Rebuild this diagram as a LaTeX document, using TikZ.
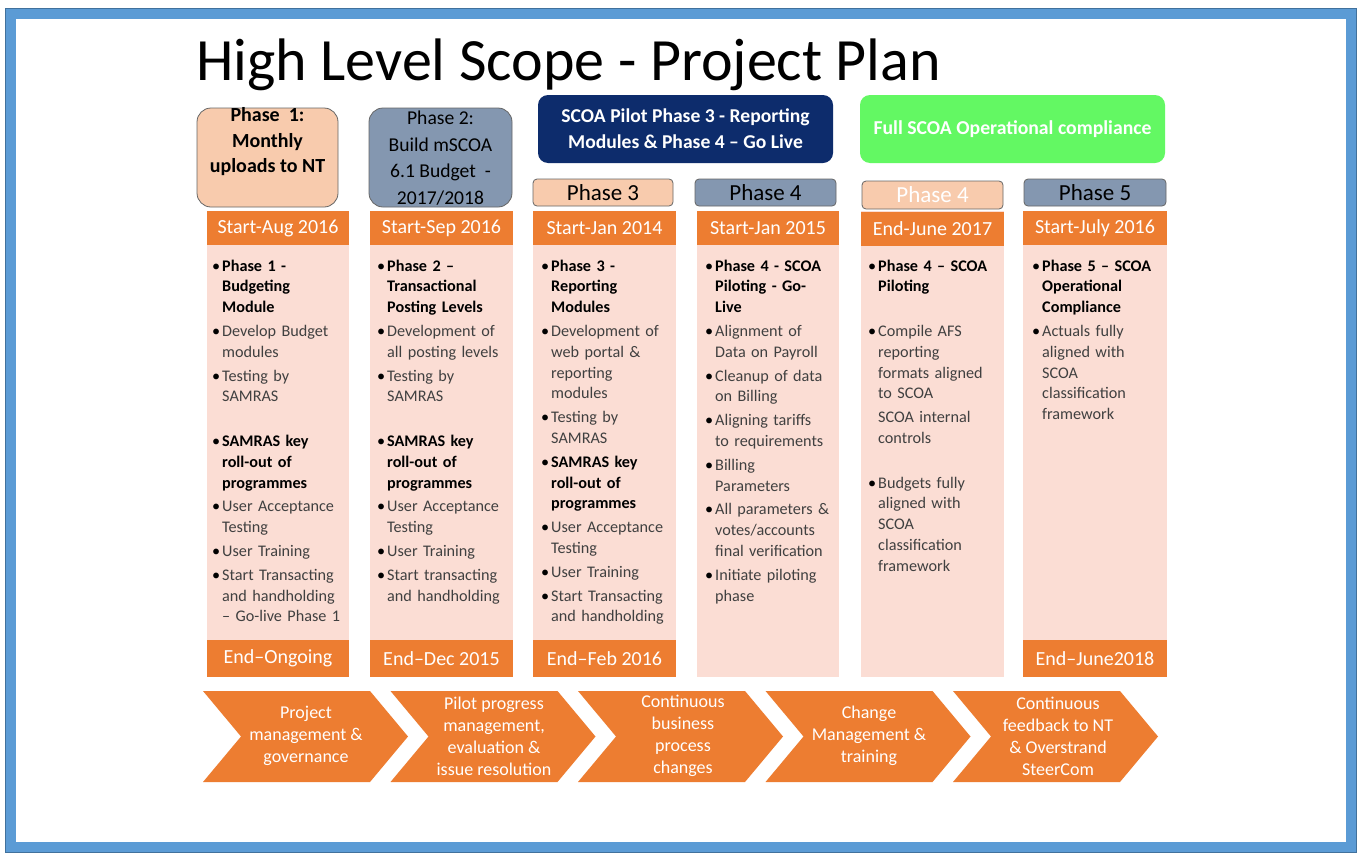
\documentclass[tikz,border=0pt]{standalone}
\usepackage{fontspec}
\setmainfont{Carlito}
\definecolor{orng}{HTML}{ED7D31}
\definecolor{pinkbg}{HTML}{FBDDD4}
\definecolor{peach}{HTML}{F8CBAD}
\definecolor{slate}{HTML}{8497B0}
\definecolor{navy}{HTML}{0D2C6C}
\definecolor{lgreen}{HTML}{63F863}
\definecolor{txtgray}{HTML}{404040}
\definecolor{framebl}{HTML}{5B9BD5}
\definecolor{framedk}{HTML}{41719C}
% bold and plain bullet points for the column texts (\\ kept inside the paragraph)
\newcommand{\bh}[1]{\par\vspace{3pt}\hangindent=10pt\hangafter=1\noindent\hbox to 10pt{\textbullet\hss}{\let\\\newline\bfseries#1}\par}
\newcommand{\bi}[1]{\par\vspace{3pt}\hangindent=10pt\hangafter=1\noindent\hbox to 10pt{\textbullet\hss}{\let\\\newline\color{txtgray}#1}\par}
\newcommand{\bc}[1]{\par\vspace{3pt}\hangindent=10pt\hangafter=1\noindent\hbox to 10pt{\hss}{\let\\\newline\color{txtgray}#1}\par}
\newcommand{\bgap}{\par\vspace{20.8pt}}
\tikzset{
  tab/.style={draw=black!60, line width=0.8pt, rounded corners=4pt},
  tabtxt/.style={minimum height=27pt, inner sep=0pt, font=\fontsize{23}{24}\selectfont},
  bar/.style={fill=orng, text=white, inner sep=0pt, minimum height=34pt, font=\fontsize{20}{22}\selectfont},
  colbg/.style={fill=pinkbg, draw=none},
  body/.style={anchor=north west, inner sep=0pt, text width=134pt, align=left, font=\fontsize{16.2}{20.8}\selectfont},
  chev/.style={fill=orng},
  chevtxt/.style={text=white, align=center, font=\fontsize{18}{22}\selectfont}
}
\begin{document}
\begin{tikzpicture}[x=1pt,y=-1pt]
\useasboundingbox (0,0) rectangle (1362,854);
\fill[white] (0,0) rectangle (1362,854);
\draw[line width=10pt, framebl] (10.5,13.5) rectangle (1351,847);
\draw[line width=1pt, framedk] (5.5,8.5) rectangle (1356,852);

\node[anchor=base west, inner sep=0pt, font=\fontsize{60}{62}\selectfont] (title) at (196,80) {High Level Scope - Project Plan};

% top boxes
\node[tab, rounded corners=14pt, fill=peach, minimum width=141pt, minimum height=99pt] (p1) at (267.5,157.5) {};
\node[anchor=north, align=center, inner sep=0pt, font=\fontsize{20}{25.5}\selectfont\bfseries] (p1t) at (267.5,107.5) {Phase\ \ 1:\\Monthly\\uploads to NT};
\node[tab, rounded corners=14pt, fill=slate, minimum width=143pt, minimum height=99pt] (p2) at (440.5,157.5) {};
\node[anchor=north, align=center, inner sep=0pt, font=\fontsize{19.6}{26.5}\selectfont] (p2t) at (440.5,111) {Phase 2:\\Build mSCOA\\6.1 Budget\ \ -\\2017/2018};
\node[rounded corners=10pt, fill=navy, text=white, align=center, minimum width=295pt, minimum height=68pt, font=\fontsize{19.6}{26}\selectfont\bfseries] (pilot) at (685.5,129) {SCOA Pilot Phase 3 - Reporting\\Modules \& Phase 4 -- Go Live};
\node[rounded corners=10pt, fill=lgreen, text=white, align=center, minimum width=305pt, minimum height=68pt, font=\fontsize{19.7}{22}\selectfont\bfseries] (full) at (1012.5,129) {Full SCOA Operational compliance};

\node[tab, tabtxt, fill=peach, minimum width=140pt] (ph3) at (603,192.5) {Phase 3};
\node[tab, tabtxt, fill=slate, minimum width=141pt] (ph4) at (765.5,192.5) {Phase 4};
\node[tab, tabtxt, fill=peach, text=white, minimum width=141pt, minimum height=28pt] (ph4b) at (932.5,195) {Phase 4};
\node[tab, tabtxt, fill=slate, minimum width=142pt] (ph5) at (1095,192.5) {Phase 5};

% columns
\fill[colbg] (207,211) rectangle (349,677);
\fill[colbg] (370,211) rectangle (513,677);
\fill[colbg] (533,211) rectangle (676,677);
\fill[colbg] (697,211) rectangle (839,677);
\fill[colbg] (861,211) rectangle (1004,677);
\fill[colbg] (1023,211) rectangle (1167,677);

\node[bar, minimum width=142pt] (s1) at (278,228) {Start-Aug 2016};
\node[bar, minimum width=143pt] (s2) at (441.5,228) {Start-Sep 2016};
\node[bar, minimum width=143pt] (s3) at (604.5,228) {Start-Jan 2014};
\node[bar, minimum width=142pt] (s4) at (768,228) {Start-Jan 2015};
\node[bar, minimum width=143pt] (s5) at (932.5,229) {End-June 2017};
\node[bar, minimum width=144pt] (s6) at (1095,228) {Start-July 2016};

\node[bar, minimum width=142pt, minimum height=37pt] (e1) at (278,658.5) {End--Ongoing};
\node[bar, minimum width=143pt, minimum height=37pt] (e2) at (441.5,658.5) {End--Dec 2015};
\node[bar, minimum width=143pt, minimum height=37pt] (e3) at (604.5,658.5) {End--Feb 2016};
\node[bar, minimum width=144pt, minimum height=37pt] (e6) at (1095,658.5) {End--June2018};

\node[body] (c1) at (212,247) {
  \bh{Phase 1 -\\Budgeting\\Module}
  \bi{Develop Budget\\modules}
  \bi{Testing by\\SAMRAS}
  \bgap
  \bh{SAMRAS key\\roll-out of\\programmes}
  \bi{User Acceptance\\Testing}
  \bi{User Training}
  \bi{Start Transacting\\and handholding\\-- Go-live Phase 1}};
\node[body] (c2) at (377,247) {
  \bh{Phase 2 --\\Transactional\\Posting Levels}
  \bi{Development of\\all posting levels}
  \bi{Testing by\\SAMRAS}
  \bgap
  \bh{SAMRAS key\\roll-out of\\programmes}
  \bi{User Acceptance\\Testing}
  \bi{User Training}
  \bi{Start transacting\\and handholding}};
\node[body] (c3) at (541,247) {
  \bh{Phase 3 -\\Reporting\\Modules}
  \bi{Development of\\web portal \&\\reporting\\modules}
  \bi{Testing by\\SAMRAS}
  \bh{SAMRAS key\\roll-out of\\programmes}
  \bi{User Acceptance\\Testing}
  \bi{User Training}
  \bi{Start Transacting\\and handholding}};
\node[body] (c4) at (705,247) {
  \bh{Phase 4 - SCOA\\Piloting - Go-\\Live}
  \bi{Alignment of\\Data on Payroll}
  \bi{Cleanup of data\\on Billing}
  \bi{Aligning tariffs\\to requirements}
  \bi{Billing\\Parameters}
  \bi{All parameters \&\\votes/accounts\\final verification}
  \bi{Initiate piloting\\phase}};
\node[body] (c5) at (868,247) {
  \bh{Phase 4 -- SCOA\\Piloting}
  \bgap
  \bi{Compile AFS\\reporting\\formats aligned\\to SCOA}
  \bc{SCOA internal\\controls}
  \bgap
  \bi{Budgets fully\\aligned with\\SCOA\\classification\\framework}};
\node[body] (c6) at (1032,247) {
  \bh{Phase 5 -- SCOA\\Operational\\Compliance}
  \bi{Actuals fully\\aligned with\\SCOA\\classification\\framework}};

% process chevrons
\fill[chev] (203,691) -- (370,691) -- (408,736.5) -- (370,782) -- (203,782) -- (241,736.5) -- cycle;
\fill[chev] (390.5,691) -- (557.5,691) -- (595.5,736.5) -- (557.5,782) -- (390.5,782) -- (428.5,736.5) -- cycle;
\fill[chev] (578,691) -- (745,691) -- (783,736.5) -- (745,782) -- (578,782) -- (616,736.5) -- cycle;
\fill[chev] (765.5,691) -- (932.5,691) -- (970.5,736.5) -- (932.5,782) -- (765.5,782) -- (803.5,736.5) -- cycle;
\fill[chev] (953,691) -- (1120,691) -- (1158,736.5) -- (1120,782) -- (953,782) -- (991,736.5) -- cycle;

\node[chevtxt] (k1) at (306,736) {Project\\management \&\\governance};
\node[chevtxt] (k2) at (494,736) {Pilot progress\\management,\\evaluation \&\\issue resolution};
\node[chevtxt] (k3) at (683,736) {Continuous\\business\\process\\changes};
\node[chevtxt] (k4) at (869,736) {Change\\Management \&\\training};
\node[chevtxt] (k5) at (1058,736) {Continuous\\feedback to NT\\\& Overstrand\\SteerCom};
\end{tikzpicture}
\end{document}
